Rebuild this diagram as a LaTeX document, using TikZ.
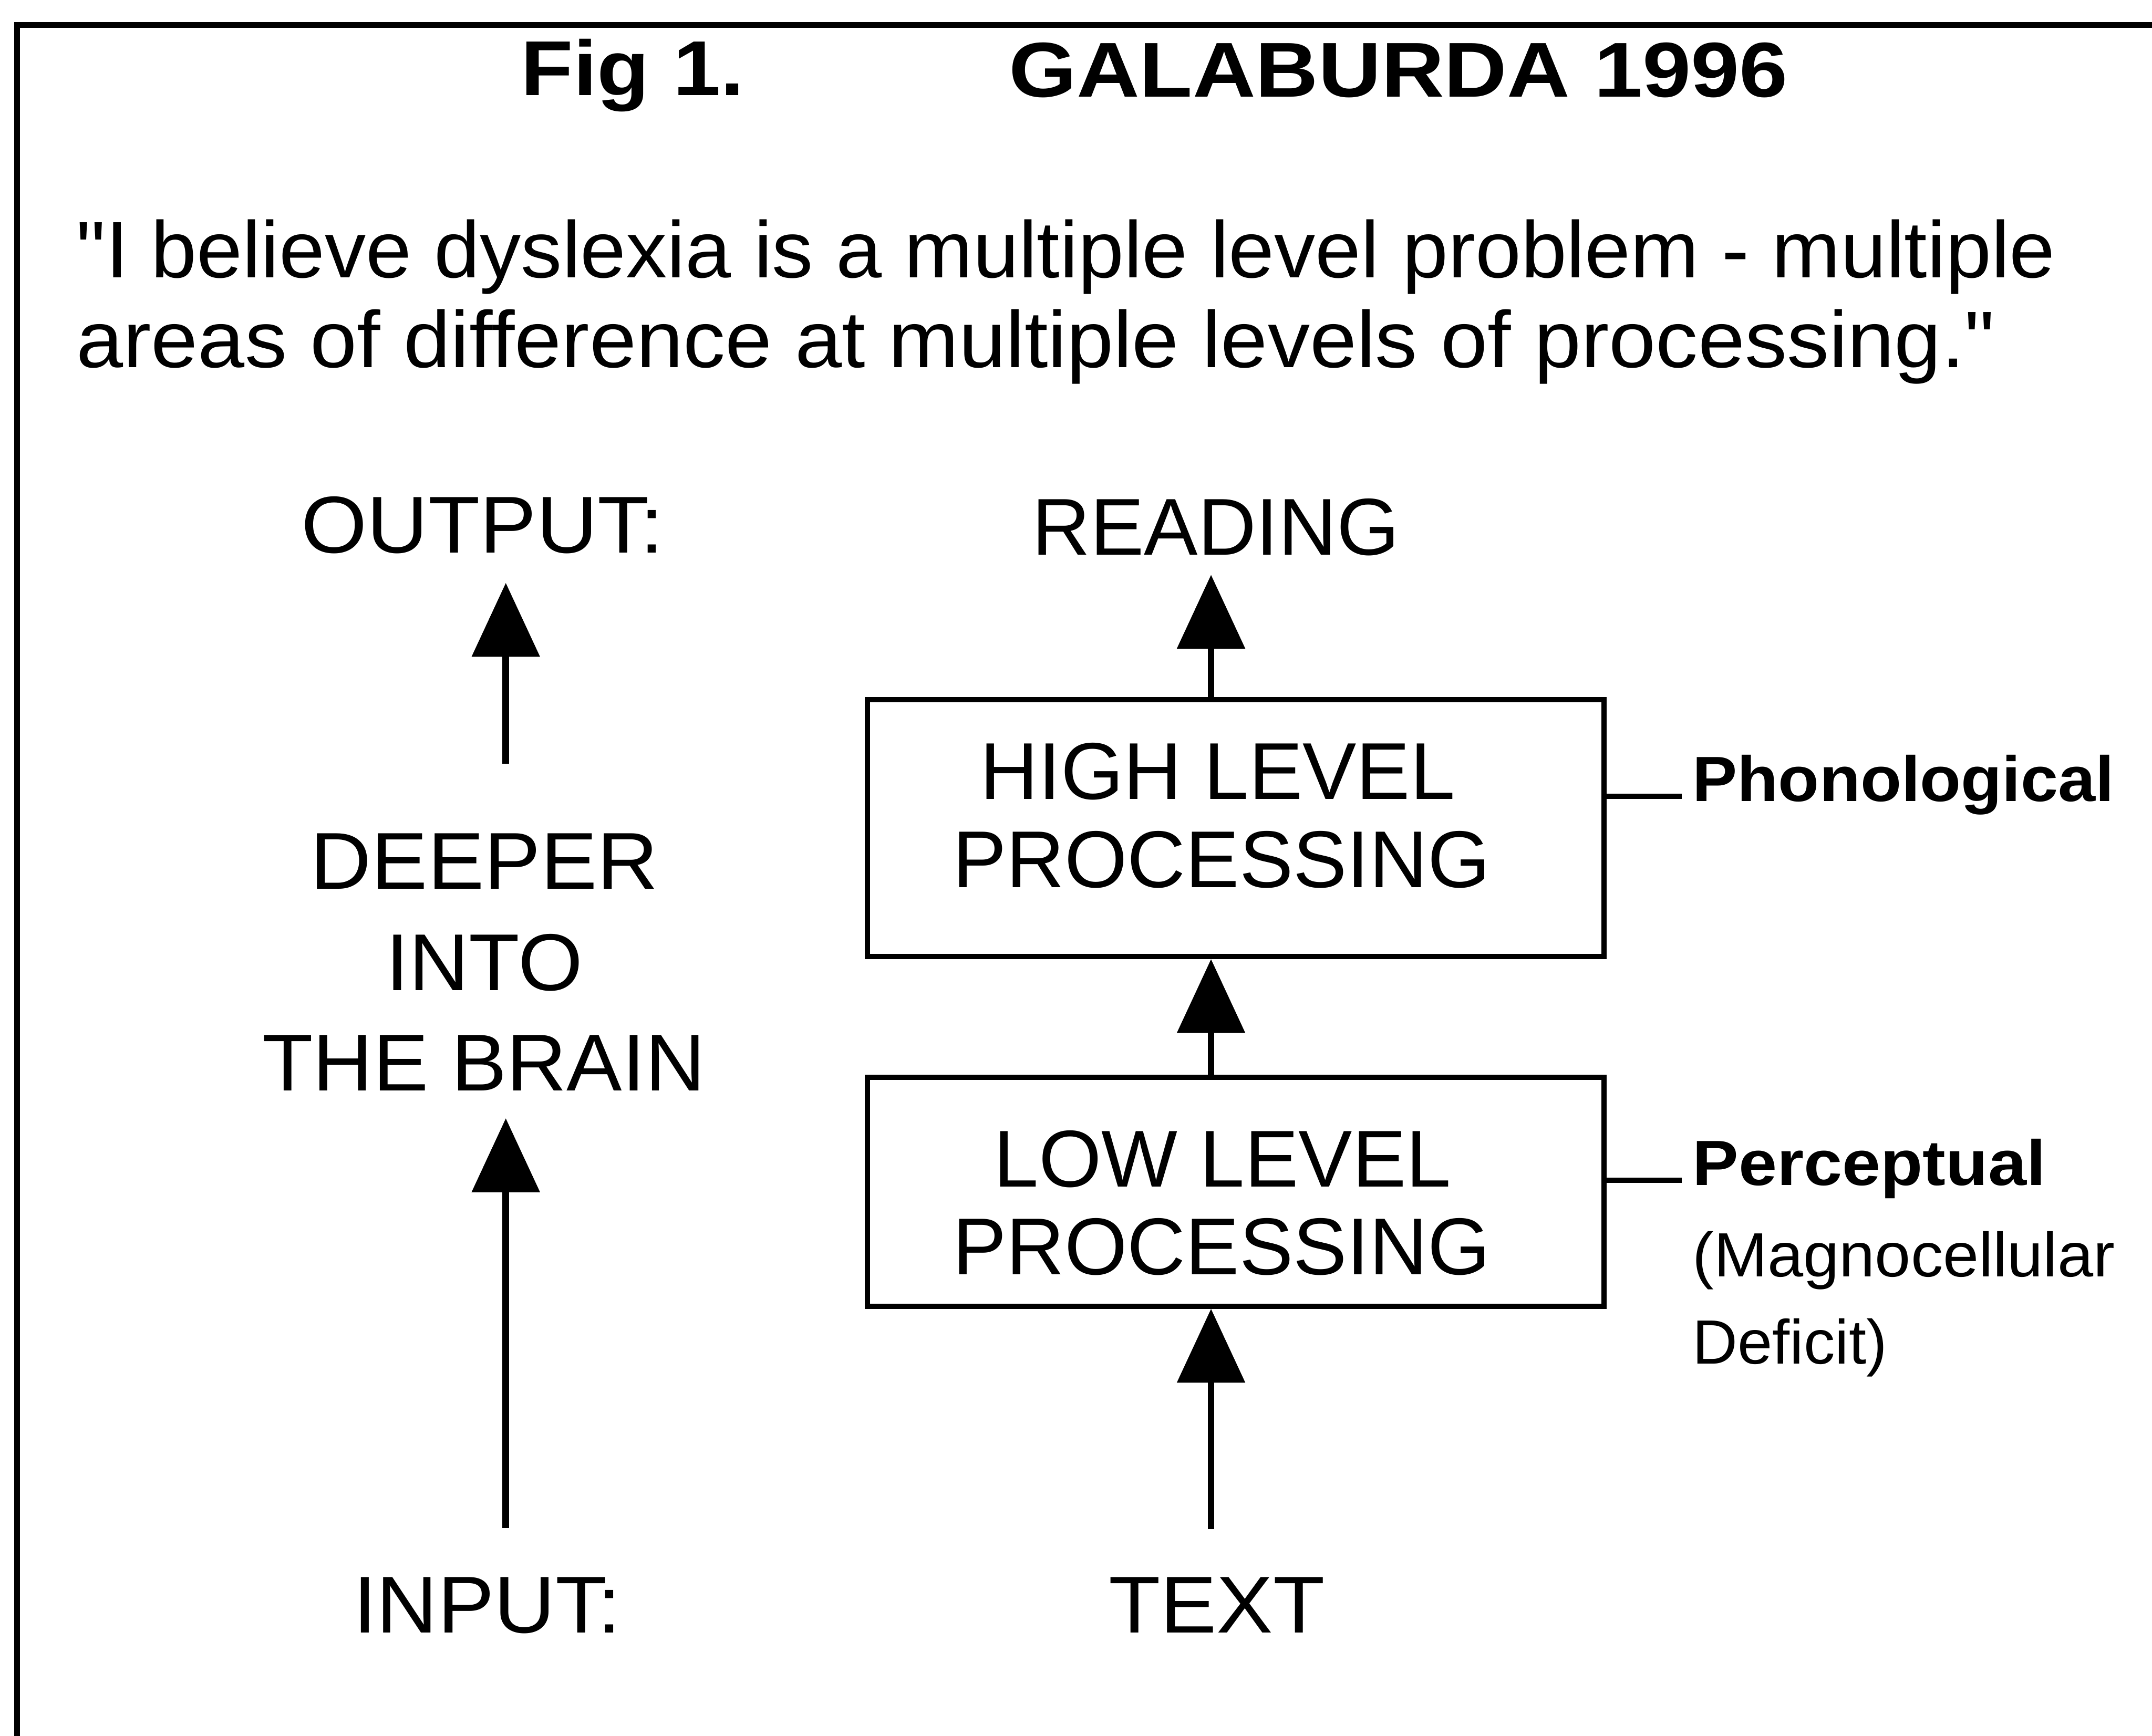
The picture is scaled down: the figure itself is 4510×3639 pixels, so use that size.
\documentclass[tikz,border=0pt]{standalone}
\usepackage{fontspec}
\usepackage{graphicx}
\setmainfont{Liberation Sans}
\newfontfamily\qfont{Liberation Sans}
\usetikzlibrary{arrows.meta}
\newcommand{\sxw}[2]{\scalebox{#1}[1]{#2}}
\begin{document}
\begin{tikzpicture}[x=1pt,y=-1pt,
  lbl/.style={inner sep=0pt, anchor=base, font=\fontsize{169}{200}\selectfont},
  qt/.style={inner sep=0pt, anchor=base west, font=\fontsize{168}{200}\selectfont\qfont},
  bt/.style={inner sep=0pt, anchor=base west, font=\fontsize{163}{200}\selectfont\bfseries},
  sb/.style={inner sep=0pt, anchor=base west, font=\fontsize{134}{160}\selectfont\bfseries},
  sr/.style={inner sep=0pt, anchor=base west, font=\fontsize{131}{160}\selectfont},
  box/.style={draw, line width=11pt, inner sep=0pt, minimum width=1544pt},
  arr/.style={line width=14pt, -{Triangle[width=140pt,length=155pt]}},
  conn/.style={line width=11pt},
  frame/.style={line width=12pt}
]
\useasboundingbox (0,0) rectangle (4510,3639);
\fill[white] (0,0) rectangle (4510,3639);
\draw[frame] (36,3639) -- (36,52) -- (4510,52);

% title and quote
\node[bt] (fig) at (1092,200) {\sxw{1.10}{Fig 1.}};
\node[bt] (gal) at (2114,203) {\sxw{1.12}{GALABURDA 1996}};
\node[qt] (q1) at (160,582) {\sxw{1.025}{"I believe dyslexia is a multiple level problem - multiple}};
\node[qt] (q2) at (160,770) {\sxw{1.05}{areas of difference at multiple levels of processing."}};

% column coordinates
\coordinate (colL) at (1060,0);
\coordinate (colR) at (2538,0);

% left column
\node[lbl] (out) at (1011,1159) {\sxw{1.05}{OUTPUT:}};
\node[lbl] (deep1) at (1015,1864) {\sxw{1.05}{DEEPER}};
\node[lbl] (deep2) at (1015,2076) {\sxw{1.03}{INTO}};
\node[lbl] (deep3) at (1014,2286) {\sxw{1.03}{THE BRAIN}};
\node[lbl] (inp) at (1021,3423) {\sxw{1.05}{INPUT:}};

% right column
\node[lbl] (read) at (2548,1163) {READING};
\node[box, minimum height=538pt] (hi) at (2590,1736) {};
\node[box, minimum height=480pt] (lo) at (2590,2498) {};
\node[lbl] (hi1) at (2552,1675) {HIGH LEVEL};
\node[lbl] (hi2) at (2560,1860) {PROCESSING};
\node[lbl] (lo1) at (2562,2488) {LOW LEVEL};
\node[lbl] (lo2) at (2560,2672) {PROCESSING};
\node[lbl] (txt) at (2550,3423) {\sxw{1.05}{TEXT}};

% side labels
\node[sb] (phon) at (3547,1680) {\sxw{1.05}{Phonological}};
\node[sb] (perc) at (3547,2485) {\sxw{1.08}{Perceptual}};
\node[sr] (mag) at (3547,2676) {\sxw{1.03}{(Magnocellular}};
\node[sr] (def) at (3547,2859) {Deficit)};

% arrows
\draw[arr, shorten <=104pt, shorten >=58pt] (inp.north -| colL) -- (deep3.south -| colL);
\draw[arr, shorten <=147pt, shorten >=61pt] (deep1.north -| colL) -- (out.south -| colL);
\draw[arr, shorten <=101pt] (txt.north -| colR) -- (lo.south -| colR);
\draw[arr] (lo.north -| colR) -- (hi.south -| colR);
\draw[arr, shorten >=40pt] (hi.north -| colR) -- (read.south -| colR);

% side connectors
\coordinate (phonc) at ([yshift=8pt]phon.mid west);
\coordinate (percc) at ([yshift=8pt]perc.mid west);
\draw[conn, shorten >=23pt] (hi.east |- phonc) -- (phonc);
\draw[conn, shorten >=23pt] (lo.east |- percc) -- (percc);
\end{tikzpicture}
\end{document}
